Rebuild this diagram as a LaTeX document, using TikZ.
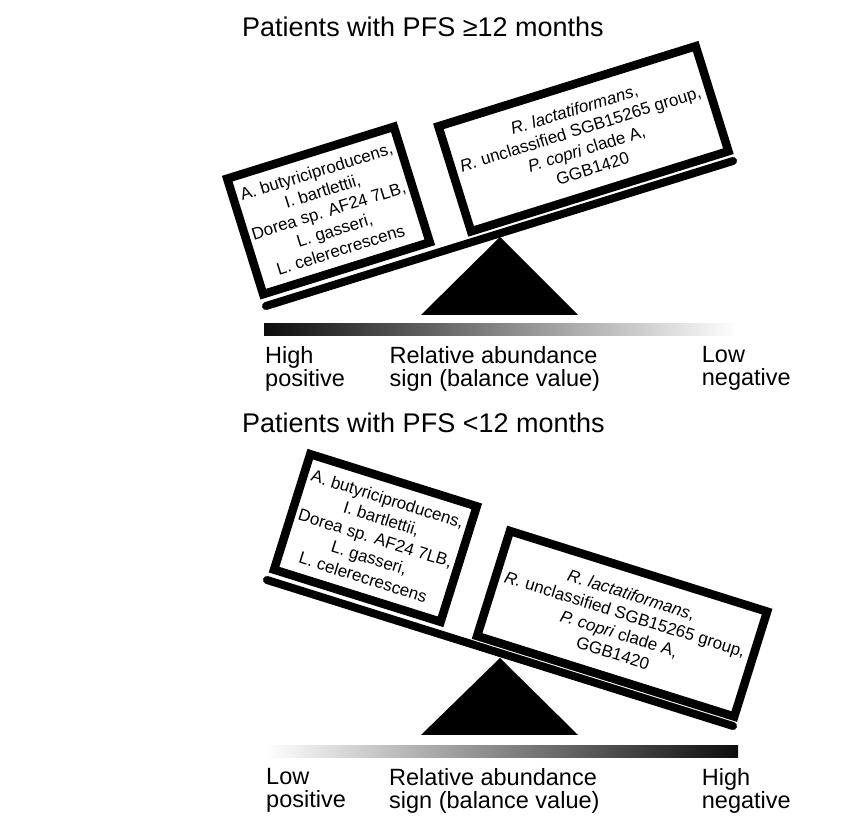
\documentclass[tikz,border=0pt]{standalone}
\usepackage{fontspec}
\setmainfont{Liberation Sans}
\begin{document}
\begin{tikzpicture}[x=1pt,y=1pt,
  box/.style={draw, line width=8.5pt, inner sep=0pt, align=center,
    font=\fontsize{17}{20.5}\selectfont, transform shape},
  leftbox/.style={box, minimum width=174.5pt, minimum height=121pt},
  rightbox/.style={box, minimum width=269.5pt, minimum height=110pt},
  beam/.style={line width=8pt, line cap=round},
  lab/.style={align=left, inner sep=0pt, anchor=north west, font=\fontsize{23.5}{23}\selectfont},
  ttl/.style={inner sep=0pt, anchor=base west, font=\fontsize{27}{30}\selectfont}]
\useasboundingbox (0,0) rectangle (862,829);

% ---------- top scale ----------
\node[ttl] (title1) at (242,792) {Patients with PFS ≥12 months};
\coordinate (b1l) at (266,523);
\coordinate (b1r) at (733,668);
\draw[beam] (b1l) -- (b1r);
\coordinate (p1a) at (500,592);
\coordinate (p1l) at (421,514);
\coordinate (p1r) at (578,514);
\fill (p1l) -- (p1a) -- (p1r) -- cycle;
\node[leftbox, rotate=17.3] (L1) at (328.5,618.5)
  {A. butyriciproducens,\\ I. bartlettii,\\ Dorea sp. AF24 7LB,\\ L. gasseri,\\ L. celerecrescens};
\node[rightbox, rotate=17.3] (R1) at (583.4,690.2)
  {\textit{R. lactatiformans},\\ \textit{R.} unclassified SGB15265 group,\\ \textit{P. copri} clade A,\\ GGB1420};
\shade[left color=black!95, right color=white] (264,493) rectangle (737,505);
\node[lab] (hp1) at (265,483.2) {High\\positive};
\node[lab] (ra1) at (389.5,483.2) {Relative abundance\\sign (balance value)};
\node[lab] (ln1) at (701.7,483.2) {Low\\negative};

% ---------- bottom scale ----------
\node[ttl] (title2) at (242,396) {Patients with PFS <12 months};
\coordinate (b2l) at (267,249);
\coordinate (b2r) at (733,103);
\draw[beam] (b2l) -- (b2r);
\coordinate (p2a) at (500,171);
\coordinate (p2l) at (421,94);
\coordinate (p2r) at (578,94);
\fill (p2l) -- (p2a) -- (p2r) -- cycle;
\node[leftbox, rotate=-17.4] (L2) at (375.4,291)
  {A. butyriciproducens,\\ I. bartlettii,\\ Dorea sp. AF24 7LB,\\ L. gasseri,\\ L. celerecrescens};
\node[rightbox, rotate=-17.4] (R2) at (622.1,205.2)
  {\textit{R. lactatiformans},\\ \textit{R.} unclassified SGB15265 group,\\ \textit{P. copri} clade A,\\ GGB1420};
\shade[left color=white, right color=black!95] (266,71.7) rectangle (738,83.3);
\node[lab] (lp2) at (266,61.2) {Low\\positive};
\node[lab] (ra2) at (389,61.2) {Relative abundance\\sign (balance value)};
\node[lab] (hn2) at (701.7,61.2) {High\\negative};
\end{tikzpicture}
\end{document}
